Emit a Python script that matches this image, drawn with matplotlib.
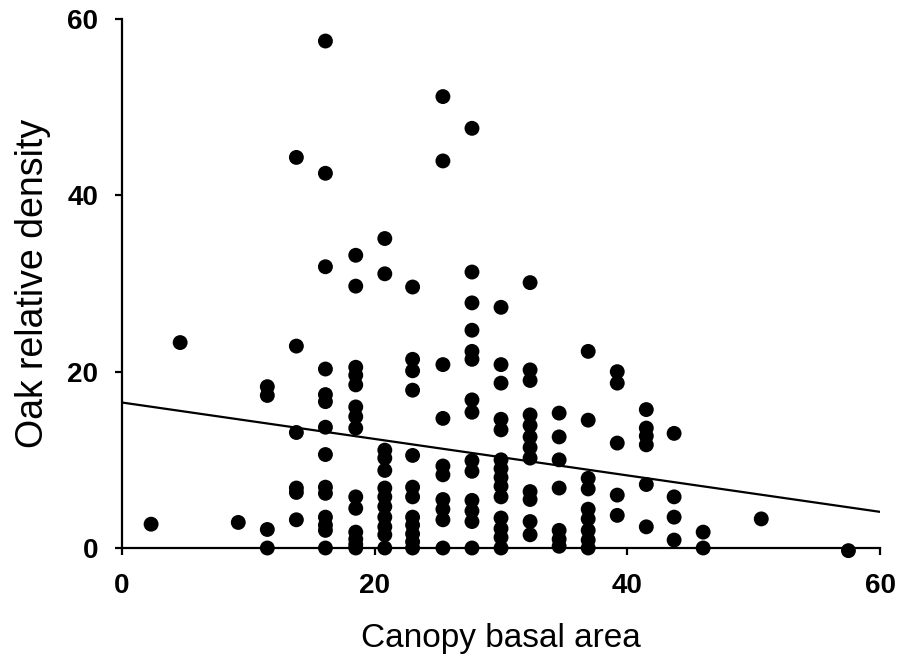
import numpy as np
import matplotlib.pyplot as plt

# canopy basal area columns and the oak relative density points found in each
col_x = [2.3, 4.6, 9.2, 11.5, 13.8, 16.1, 18.5, 20.8, 23.0, 25.4, 27.7,
         30.0, 32.3, 34.6, 36.9, 39.2, 41.5, 43.7, 46.0, 50.6, 57.5]
col_y = [
    [2.7],
    [23.3],
    [2.9],
    [18.3, 17.3, 2.1, 0],
    [44.3, 22.9, 13.1, 6.8, 6.3, 3.2],
    [57.5, 42.5, 31.9, 20.3, 17.4, 16.6, 13.7, 10.6, 6.9, 6.2, 3.5, 2.6, 2.0, 0],
    [33.2, 29.7, 20.5, 19.6, 18.5, 16.0, 14.9, 13.6, 5.8, 4.5, 1.8, 1.0, 0.4, 0],
    [35.1, 31.1, 11.1, 10.2, 8.8, 6.8, 5.8, 4.7, 3.5, 2.4, 1.5, 0],
    [29.6, 21.4, 20.1, 17.9, 10.5, 6.9, 5.8, 3.5, 2.6, 1.6, 0.7, 0],
    [51.2, 43.9, 20.8, 14.7, 9.3, 8.3, 5.5, 4.4, 3.2, 0],
    [47.6, 31.3, 27.8, 24.7, 22.3, 21.4, 16.8, 15.4, 9.9, 8.7, 5.4, 4.2, 3.0, 0],
    [27.3, 20.8, 18.7, 14.6, 13.4, 10.0, 9.0, 8.0, 7.0, 5.8, 3.4, 2.2, 1.2, 0],
    [30.1, 20.2, 19.0, 15.1, 13.9, 12.6, 11.4, 10.2, 6.4, 5.5, 3.0, 1.5],
    [15.3, 12.6, 10.0, 6.8, 2.0, 1.0, 0.2],
    [22.3, 14.5, 7.9, 6.7, 4.4, 3.3, 2.0, 0.9, 0],
    [20.0, 18.7, 11.9, 6.0, 3.7],
    [15.7, 13.6, 12.7, 11.7, 7.2, 2.4],
    [13.0, 5.8, 3.5, 0.9],
    [1.8, 0],
    [3.3],
    [-0.3],
]

# fitted line read at both ends of the x axis
fit_x = [0, 60]
fit_y = [16.5, 4.1]

ticks = [0, 20, 40, 60]

xs = np.concatenate([[x] * len(ys) for x, ys in zip(col_x, col_y)])
ys = np.concatenate(col_y)

plt.rcParams['font.family'] = ['Liberation Sans', 'DejaVu Sans']

fig = plt.figure(figsize=(9, 6.64), dpi=100)
ax = fig.add_axes([0.1356, 0.1747, 0.8422, 0.7967])

ax.plot(fit_x, fit_y, color='black', lw=1.6, zorder=2)
ax.scatter(xs, ys, s=115, color='black', edgecolors='none', zorder=3, clip_on=False)

ax.set_xlim(0, 60)
ax.set_ylim(0, 60)
ax.set_xticks(ticks)
ax.set_yticks(ticks)

for side in ['top', 'right']:
    ax.spines[side].set_visible(False)
for side in ['left', 'bottom']:
    ax.spines[side].set_linewidth(1.6)

ax.tick_params(axis='both', direction='out', length=5, width=1.6, labelsize=20)
ax.tick_params(axis='x', pad=13)
ax.tick_params(axis='y', pad=12)
for lab in ax.get_xticklabels() + ax.get_yticklabels():
    lab.set_fontweight('bold')

ax.set_xlabel('Canopy basal area', fontsize=24, labelpad=17)
ax.set_ylabel('Oak relative density', fontsize=27, labelpad=12)

fig.savefig('out.png', dpi=100)
